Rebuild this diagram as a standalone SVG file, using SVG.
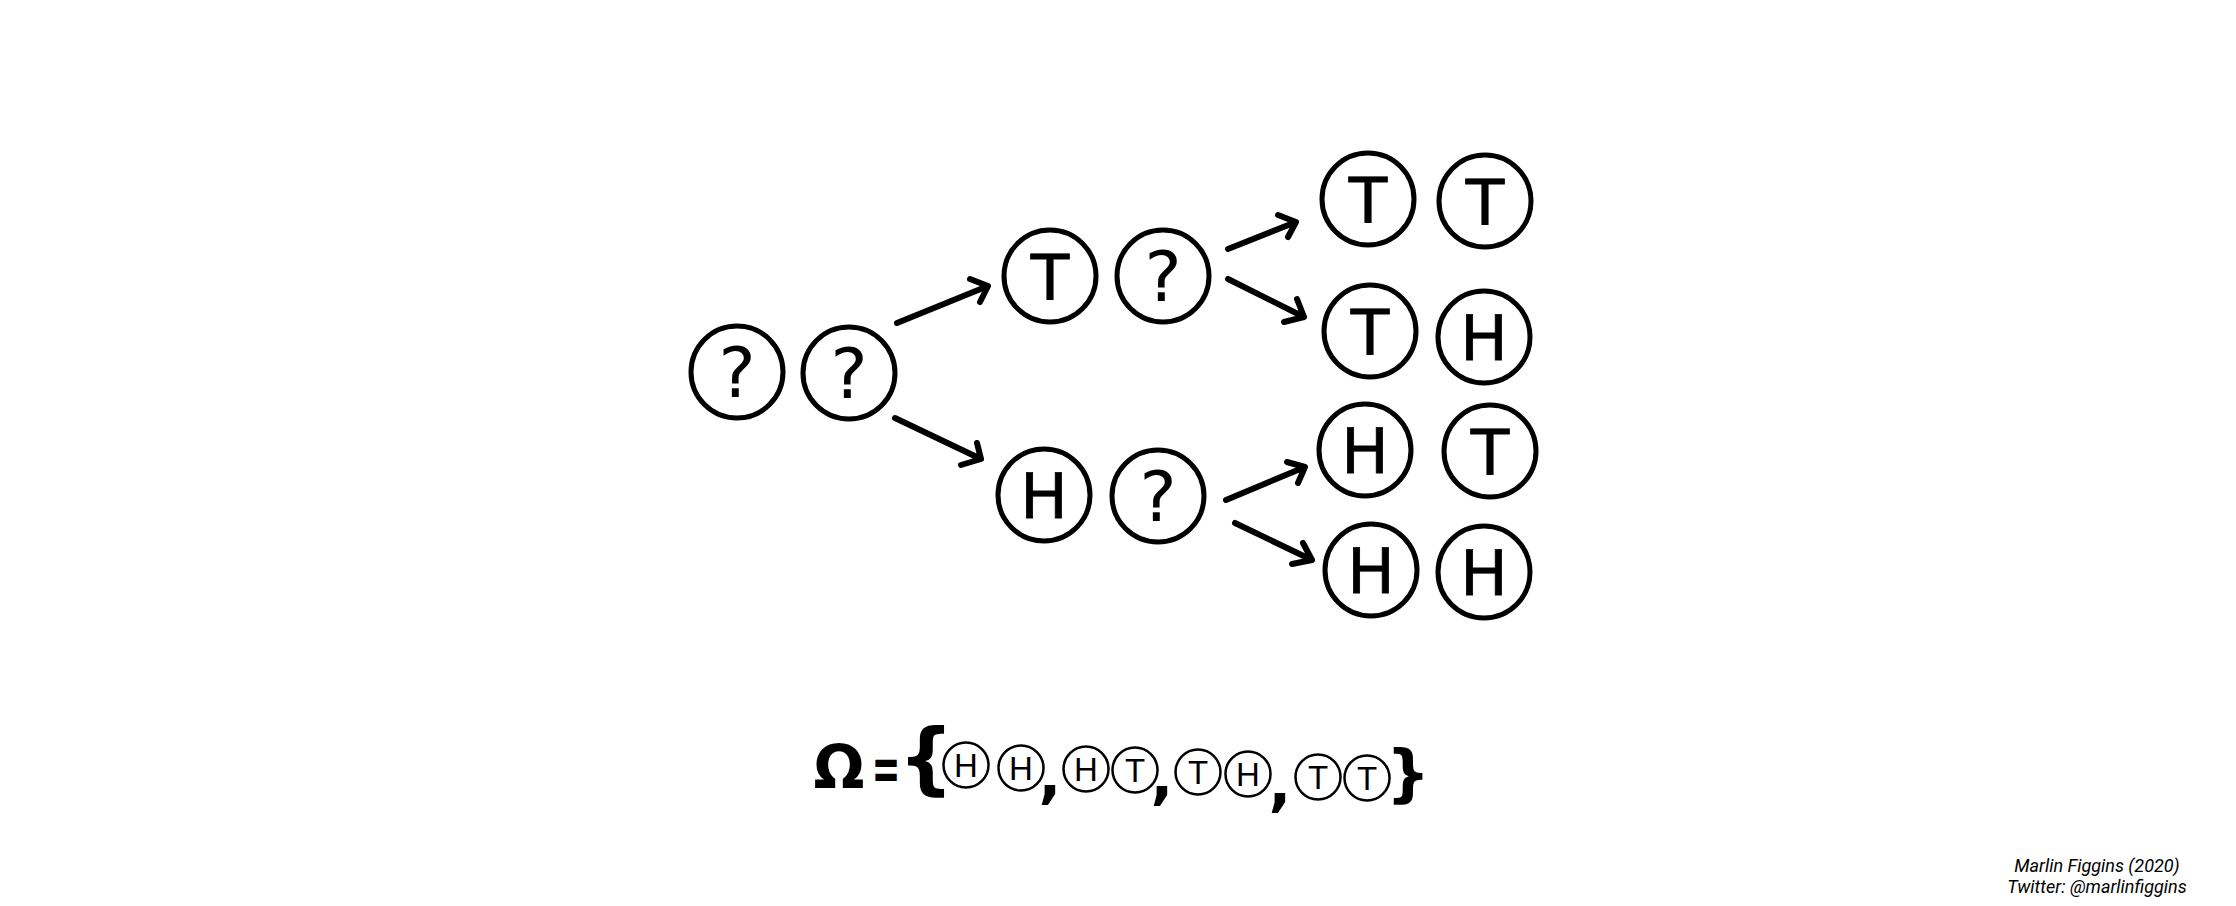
<svg xmlns="http://www.w3.org/2000/svg" width="2236" height="906" viewBox="0 0 2236 906">
<style>
.c{fill:none;stroke:#000;stroke-width:5}
.l{font-family:"DejaVu Sans",sans-serif;font-size:63px;fill:#000;stroke:#000;stroke-width:0.8;text-anchor:middle}
.q{font-family:"DejaVu Sans",sans-serif;font-size:70px;fill:#000;text-anchor:middle}
.a{fill:none;stroke:#000;stroke-width:6;stroke-linecap:round;stroke-linejoin:round}
.sc{fill:none;stroke:#000;stroke-width:2.5}
.sl{font-family:"Liberation Sans",sans-serif;font-size:33px;fill:#000;text-anchor:middle}
.eq{font-family:"DejaVu Sans",sans-serif;font-weight:bold;fill:#000;text-anchor:middle}
.cr{font-family:Roboto,"Liberation Sans",sans-serif;font-style:italic;font-size:18px;fill:#000;text-anchor:middle}
</style>
<rect width="2236" height="906" fill="#fff"/>
<g id="node-qq">
<circle class="c" cx="737" cy="372" r="46"/><text class="q" x="737" y="397">?</text>
<circle class="c" cx="849" cy="373" r="46"/><text class="q" x="849" y="398">?</text>
</g>
<g id="node-tq">
<circle class="c" cx="1050" cy="276" r="46"/><text class="l" x="1050" y="299">T</text>
<circle class="c" cx="1163" cy="276" r="46"/><text class="q" x="1163" y="301">?</text>
</g>
<g id="node-hq">
<circle class="c" cx="1044" cy="495" r="46"/><text class="l" x="1044" y="518">H</text>
<circle class="c" cx="1158" cy="496" r="46"/><text class="q" x="1158" y="521">?</text>
</g>
<g id="node-tt">
<circle class="c" cx="1368" cy="199" r="46"/><text class="l" x="1368" y="222">T</text>
<circle class="c" cx="1485" cy="201" r="46"/><text class="l" x="1485" y="224">T</text>
</g>
<g id="node-th">
<circle class="c" cx="1370" cy="331" r="46"/><text class="l" x="1370" y="354">T</text>
<circle class="c" cx="1484" cy="337" r="46"/><text class="l" x="1484" y="360">H</text>
</g>
<g id="node-ht">
<circle class="c" cx="1365" cy="450" r="46"/><text class="l" x="1365" y="473">H</text>
<circle class="c" cx="1490" cy="451" r="46"/><text class="l" x="1490" y="474">T</text>
</g>
<g id="node-hh">
<circle class="c" cx="1371" cy="570" r="46"/><text class="l" x="1371" y="593">H</text>
<circle class="c" cx="1484" cy="572" r="46"/><text class="l" x="1484" y="595">H</text>
</g>
<g id="connectors">
<path class="a" d="M897 323L988 286M970 279L988 286L980 302"/>
<path class="a" d="M895 418L981 459M977 443L981 459L961 465"/>
<path class="a" d="M1228 249L1296 222M1278 215L1296 222L1288 237"/>
<path class="a" d="M1228 279L1304 317M1297 299L1304 317L1284 322"/>
<path class="a" d="M1226 500L1305 467M1287 462L1305 467L1298 483"/>
<path class="a" d="M1235 523L1312 560M1303 543L1312 560L1292 564"/>
</g>
<g id="sample-space">
<text class="eq" x="839" y="788" font-size="60">Ω</text>
<text class="eq" transform="translate(886,790) scale(0.55,1)" x="0" y="0" font-size="62">=</text>
<text class="eq" x="926" y="785" font-size="78">{</text>
<circle class="sc" cx="966" cy="765" r="22.5"/><text class="sl" x="966" y="777">H</text>
<circle class="sc" cx="1021" cy="768" r="22.5"/><text class="sl" x="1021" y="780">H</text>
<text class="eq" x="1050" y="796" font-size="60">,</text>
<circle class="sc" cx="1086" cy="769" r="22.5"/><text class="sl" x="1086" y="781">H</text>
<circle class="sc" cx="1135" cy="770" r="22.5"/><text class="sl" x="1135" y="782">T</text>
<text class="eq" x="1162" y="797" font-size="60">,</text>
<circle class="sc" cx="1198" cy="772" r="22.5"/><text class="sl" x="1198" y="784">T</text>
<circle class="sc" cx="1248" cy="774" r="22.5"/><text class="sl" x="1248" y="786">H</text>
<text class="eq" x="1280" y="804" font-size="60">,</text>
<circle class="sc" cx="1318" cy="777" r="22.5"/><text class="sl" x="1318" y="789">T</text>
<circle class="sc" cx="1367" cy="778" r="22.5"/><text class="sl" x="1367" y="790">T</text>
<text class="eq" x="1408" y="794" font-size="62">}</text>
</g>
<g id="credit">
<text class="cr" x="2097" y="872">Marlin Figgins (2020)</text>
<text class="cr" x="2097" y="893">Twitter: @marlinfiggins</text>
</g>
</svg>
